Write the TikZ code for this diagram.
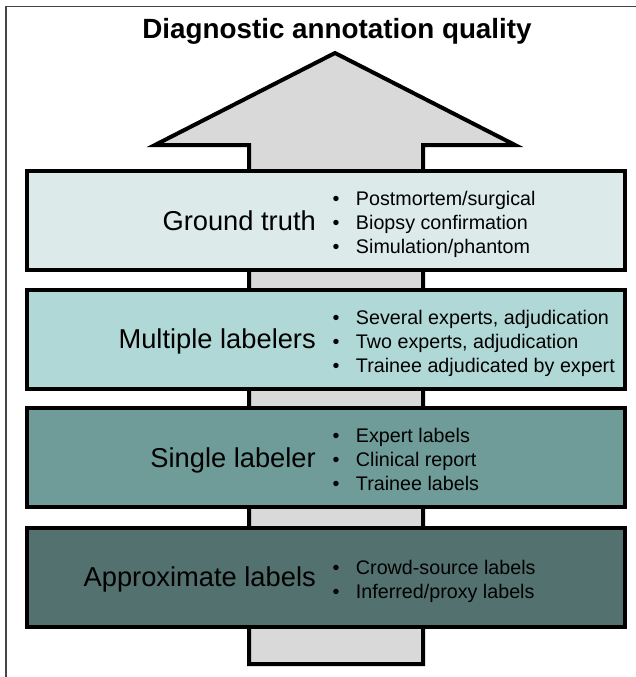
\documentclass[tikz,border=0pt]{standalone}
\usepackage{fontspec}
\setmainfont{Liberation Sans}
\definecolor{boxA}{RGB}{221,234,234}
\definecolor{boxB}{RGB}{176,216,214}
\definecolor{boxC}{RGB}{111,156,153}
\definecolor{boxD}{RGB}{82,113,111}
\definecolor{arrowfill}{RGB}{217,217,217}
\definecolor{framegray}{RGB}{70,70,70}
\tikzset{
  levelbox/.style={draw=black, line width=4pt, rectangle, inner sep=0pt,
    minimum width=598pt, minimum height=99pt},
  levellabel/.style={anchor=base east, inner sep=0pt, font=\fontsize{27.3}{32}\selectfont},
  bulletlist/.style={anchor=west, inner sep=0pt, font=\fontsize{19.7}{24}\selectfont},
}
\newcommand{\blist}[1]{\begin{tabular}{@{}l@{\hspace{16.4pt}}l@{}}#1\end{tabular}}
\begin{document}
\begin{tikzpicture}[x=1pt,y=-1pt]
\useasboundingbox (0,0) rectangle (635,677);
% frame
\draw[framegray, line width=1.5pt] (6,677) -- (6,6.5) -- (636,6.5);
% title
\node[anchor=base, inner sep=0pt, font=\bfseries\fontsize{27.8}{32}\selectfont] (title) at (337,39) {Diagnostic annotation quality};
% arrow
\draw[line width=4pt, fill=arrowfill, line join=miter]
  (335,53) -- (515,145) -- (423,145) -- (423,664) -- (249,664) -- (249,145) -- (155,145) -- cycle;
% boxes
\node[levelbox, fill=boxA] (gt) at (326,220.5) {};
\node[levelbox, fill=boxB] (ml) at (326,339) {};
\node[levelbox, fill=boxC] (sl) at (326,457.5) {};
\node[levelbox, fill=boxD] (al) at (326,577) {};
% labels
\node[levellabel] (gtl) at (316,230.3) {Ground truth};
\node[levellabel] (mll) at (316,348.8) {Multiple labelers};
\node[levellabel] (sll) at (316,467.3) {Single labeler};
\node[levellabel] (all) at (316,586.8) {Approximate labels};
% bullets
\node[bulletlist] (gtb) at (332.5,224.7) {\blist{•&Postmortem/surgical\\ •&Biopsy confirmation\\ •&Simulation/phantom}};
\node[bulletlist] (mlb) at (332.5,343.2) {\blist{•&Several experts, adjudication\\ •&Two experts, adjudication\\ •&Trainee adjudicated by expert}};
\node[bulletlist] (slb) at (332.5,461.7) {\blist{•&Expert labels\\ •&Clinical report\\ •&Trainee labels}};
\node[bulletlist] (alb) at (332.5,581.2) {\blist{•&Crowd-source labels\\ •&Inferred/proxy labels}};
\end{tikzpicture}
\end{document}
